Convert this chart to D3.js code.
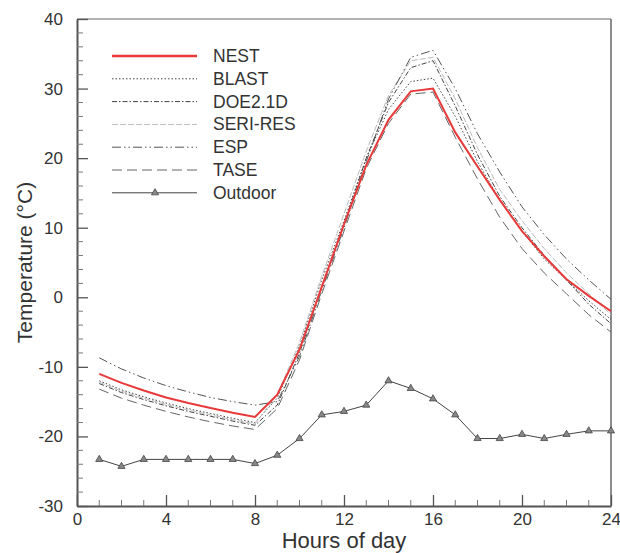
<!DOCTYPE html>
<html>
<head>
<meta charset="utf-8">
<script src="https://cdn.jsdelivr.net/npm/d3@7"></script>
<style>
  body { margin: 0; background: #fff; }
  text { font-family: "Liberation Sans", Arial, sans-serif; fill: #333; }
</style>
</head>
<body>
<svg id="chart" width="620" height="553"></svg>
<script>
var width = 620, height = 553

var hours = d3.range(1, 25)

var nest    = [-11.0, -12.3, -13.4, -14.4, -15.2, -15.9, -16.6, -17.2, -14.0, -7.5, 1.5, 10.5, 19.0, 25.5, 29.6, 30.0, 23.7, 18.8, 14.0, 9.5, 5.9, 2.6, 0.2, -2.0]
var blast   = [-12.0, -13.3, -14.3, -15.2, -16.0, -16.7, -17.4, -18.0, -14.5, -7.0, 2.5, 11.0, 20.0, 27.0, 31.0, 31.5, 26.0, 19.5, 14.0, 9.5, 5.5, 2.5, -0.5, -3.2]
var doe     = [-12.4, -13.7, -14.7, -15.6, -16.4, -17.1, -17.8, -18.4, -15.5, -8.0, 1.5, 10.5, 20.0, 28.0, 33.0, 34.0, 27.5, 20.5, 14.5, 10.0, 6.0, 2.5, -1.0, -3.8]
var seri    = [-12.2, -13.5, -14.5, -15.4, -16.2, -16.9, -17.6, -18.2, -14.0, -6.5, 3.0, 12.0, 21.0, 29.0, 34.0, 34.5, 28.5, 21.5, 15.5, 11.0, 7.0, 3.5, 0.5, -2.5]
var esp     = [-8.7, -10.3, -11.6, -12.7, -13.6, -14.4, -15.0, -15.5, -15.0, -8.5, 1.0, 10.0, 19.5, 28.5, 34.5, 35.5, 30.0, 23.5, 18.0, 13.0, 9.0, 5.5, 2.5, -0.3]
var tase    = [-13.2, -14.5, -15.5, -16.4, -17.2, -17.9, -18.5, -19.0, -16.0, -9.0, 0.5, 9.5, 18.5, 25.0, 29.2, 29.5, 23.0, 17.0, 11.5, 7.0, 3.5, 0.5, -2.5, -5.0]
var outdoor = [-23.3, -24.3, -23.3, -23.3, -23.3, -23.3, -23.3, -23.9, -22.7, -20.3, -16.9, -16.4, -15.5, -12.0, -13.1, -14.6, -16.9, -20.3, -20.3, -19.7, -20.3, -19.7, -19.2, -19.2]

var seriesNames = ['NEST', 'BLAST', 'DOE2.1D', 'SERI-RES', 'ESP', 'TASE', 'Outdoor']
var seriesValues = [nest, blast, doe, seri, esp, tase, outdoor]

var xTicks = [0, 4, 8, 12, 16, 20, 24]
var yTicks = [-30, -20, -10, 0, 10, 20, 30, 40]

// line look per series
var styles = {
  'NEST':     {stroke: '#e8393a', width: 2, dash: null},
  'BLAST':    {stroke: '#444', width: 1, dash: '1.5,2'},
  'DOE2.1D':  {stroke: '#444', width: 1, dash: '5,2,1.5,2'},
  'SERI-RES': {stroke: '#bbb', width: 1, dash: '6,2'},
  'ESP':      {stroke: '#555', width: 1, dash: '9,3,1.5,3,1.5,3'},
  'TASE':     {stroke: '#666', width: 1, dash: '10,5'},
  'Outdoor':  {stroke: '#444', width: 1, dash: null}
}

var margin = {left: 77, right: 9, top: 19, bottom: 47}

var x = d3.scaleLinear().domain([0, 24]).range([margin.left, width - margin.right])
var y = d3.scaleLinear().domain([-30, 40]).range([height - margin.bottom, margin.top])

// plain hyphen minus like the original
var plain = function(d) { return String(d) }

var svg = d3.select('#chart')

// frame: top and right edges
svg.append('line')
  .attr('x1', x(0)).attr('x2', x(24)).attr('y1', y(40)).attr('y2', y(40))
  .attr('stroke', '#999').attr('stroke-width', 1.5)
svg.append('line')
  .attr('x1', x(24)).attr('x2', x(24)).attr('y1', y(40)).attr('y2', y(-30))
  .attr('stroke', '#666').attr('stroke-width', 1.5)

// bottom axis, ticks inward
var xAxis = svg.append('g')
  .attr('transform', 'translate(0,' + y(-30) + ')')
  .call(d3.axisBottom(x).tickValues(xTicks).tickFormat(plain).tickSizeInner(-11).tickSizeOuter(0).tickPadding(7))
xAxis.append('g').selectAll('line')
  .data(d3.range(0, 25).filter(function(h) { return h % 4 != 0 }))
  .enter().append('line')
  .attr('x1', function(d) { return x(d) }).attr('x2', function(d) { return x(d) })
  .attr('y1', 0).attr('y2', -6)
  .attr('stroke', '#777')

// left axis, ticks inward
var yAxis = svg.append('g')
  .attr('transform', 'translate(' + x(0) + ',0)')
  .call(d3.axisLeft(y).tickValues(yTicks).tickFormat(plain).tickSizeInner(-11).tickSizeOuter(0).tickPadding(14))
yAxis.append('g').selectAll('line')
  .data(d3.range(-30, 41, 2).filter(function(v) { return v % 10 != 0 }))
  .enter().append('line')
  .attr('y1', function(d) { return y(d) }).attr('y2', function(d) { return y(d) })
  .attr('x1', 0).attr('x2', 6)
  .attr('stroke', '#777')

svg.selectAll('.domain').attr('stroke', '#555').attr('stroke-width', 2)
svg.selectAll('.tick line').attr('stroke', '#555').attr('stroke-width', 1.3)
svg.selectAll('.tick text').style('font-size', '17px').attr('fill', '#333')

// axis titles
svg.append('text')
  .attr('x', x(12)).attr('y', 548)
  .attr('text-anchor', 'middle')
  .style('font-size', '22px')
  .text('Hours of day')

svg.append('text')
  .attr('transform', 'translate(32,' + y(5) + ') rotate(-90)')
  .attr('text-anchor', 'middle')
  .style('font-size', '21px')
  .text('Temperature (°C)')

var line = d3.line()
  .x(function(d) { return x(d[0]) })
  .y(function(d) { return y(d[1]) })

var triangle = d3.symbol().type(d3.symbolTriangle).size(22)

// draw the model curves, NEST on top
var order = [1, 2, 3, 4, 5, 6, 0]
order.forEach(function(i) {
  var name = seriesNames[i]
  var st = styles[name]
  var pts = hours.map(function(h, j) { return [h, seriesValues[i][j]] })
  svg.append('path')
    .datum(pts)
    .attr('d', line)
    .attr('fill', 'none')
    .attr('stroke', st.stroke)
    .attr('stroke-width', st.width)
    .attr('stroke-dasharray', st.dash)
  if (name == 'Outdoor') {
    svg.append('g').selectAll('path')
      .data(pts)
      .enter().append('path')
      .attr('d', triangle)
      .attr('transform', function(d) { return 'translate(' + x(d[0]) + ',' + y(d[1]) + ')' })
      .attr('fill', '#888').attr('stroke', '#444').attr('stroke-width', 0.8)
  }
})

// legend
var legend = svg.append('g')
seriesNames.forEach(function(name, i) {
  var st = styles[name]
  var ly = 56 + i * 22.8
  legend.append('line')
    .attr('x1', 112).attr('x2', 197).attr('y1', ly).attr('y2', ly)
    .attr('stroke', st.stroke)
    .attr('stroke-width', name == 'NEST' ? 2.5 : 1)
    .attr('stroke-dasharray', st.dash)
  if (name == 'Outdoor') {
    legend.append('path')
      .attr('d', triangle)
      .attr('transform', 'translate(155,' + ly + ')')
      .attr('fill', '#888').attr('stroke', '#444').attr('stroke-width', 0.8)
  }
  legend.append('text')
    .attr('x', 213).attr('y', ly + 6)
    .style('font-size', '17.5px')
    .text(name)
})
</script>
</body>
</html>
